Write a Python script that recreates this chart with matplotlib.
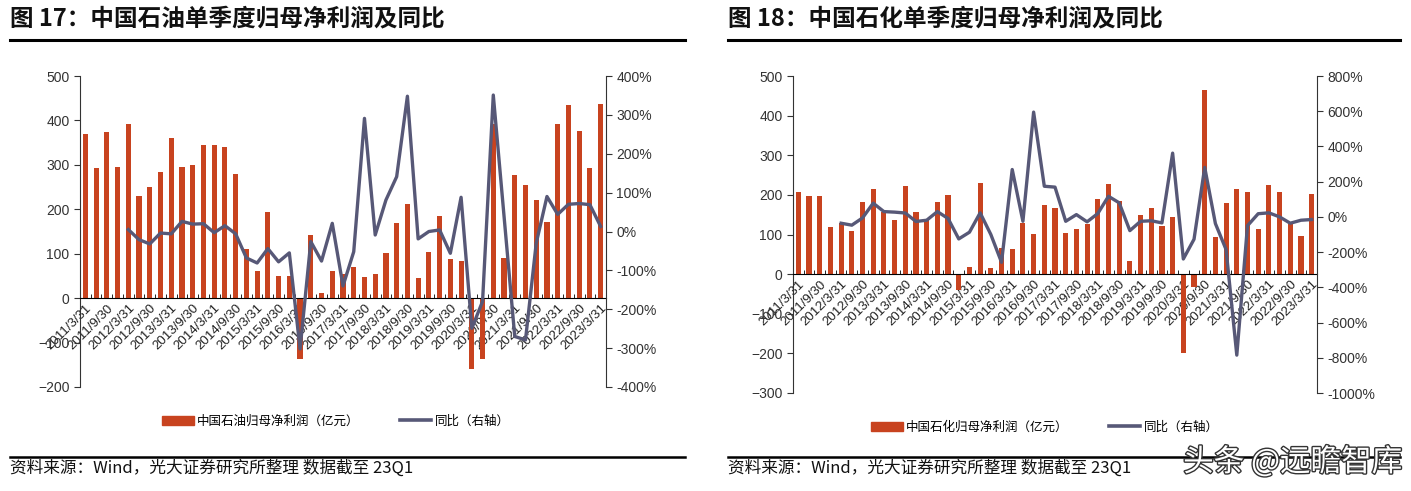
import numpy as np
import matplotlib
matplotlib.use("Agg")
import matplotlib.pyplot as plt
import matplotlib.patheffects as pe
from matplotlib.lines import Line2D
from matplotlib.patches import Patch
from matplotlib.ticker import FuncFormatter

plt.rcParams['font.family'] = ['Liberation Sans', 'Noto Sans CJK SC', 'DejaVu Sans']
CJK = ['Noto Sans CJK SC', 'DejaVu Sans']

# 横轴标签（每两个季度显示一个）
tick_labels = ["2011/3/31", "2011/9/30", "2012/3/31", "2012/9/30", "2013/3/31",
               "2013/9/30", "2014/3/31", "2014/9/30", "2015/3/31", "2015/9/30",
               "2016/3/31", "2016/9/30", "2017/3/31", "2017/9/30", "2018/3/31",
               "2018/9/30", "2019/3/31", "2019/9/30", "2020/3/31", "2020/9/30",
               "2021/3/31", "2021/9/30", "2022/3/31", "2022/9/30", "2023/3/31"]

# 中国石油 单季度归母净利润（亿元）和同比（%）
petro_profit = [370, 292, 375, 295, 392, 229, 251, 283, 361, 295,
                299, 344, 344, 340, 280, 111, 61, 193, 50, 50,
                -138, 143, 11, 62, 55, 70, 47, 55, 101, 170,
                211, 46, 104, 184, 88, 84, -160, -136, 392, 90,
                278, 254, 221, 171, 392, 434, 377, 292, 436]
petro_yoy = [np.nan, np.nan, np.nan, np.nan,
             5, -21, -32, -4, -6, 26, 19, 20, -3, 15,
             -6, -68, -81, -44, -78, -55, -302, -26, -76, 21,
             -140, -52, 291, -9, 81, 141, 348, -19, 0, 4,
             -56, 88, -249, -180, 351, 40, -270, -279, -30, 90,
             44, 70, 72, 69, 13]

# 中国石化 单季度归母净利润（亿元）和同比（%）
sinopec_profit = [207, 198, 198, 118, 129, 110, 183, 215, 157, 137,
                  222, 157, 137, 181, 199, -40, 17, 229, 15, 65,
                  63, 130, 101, 174, 167, 105, 113, 127, 189, 228,
                  184, 33, 149, 166, 121, 145, -200, -33, 465, 94,
                  180, 214, 208, 114, 226, 208, 127, 97, 202]
sinopec_yoy = [np.nan, np.nan, np.nan, np.nan,
               -36, -47, -6, 78, 30, 27, 22, -26, -19, 30,
               -9, -125, -87, 23, -100, -258, 269, -25, 595, 174,
               169, -25, 13, -28, 19, 117, 80, -78, -25, -22,
               -34, 362, -239, -127, 281, -38, -186, -785, -50, 18,
               23, 0, -36, -19, -15]

BAR = '#C8431F'
LINE = '#575877'
GRAY = '#333333'

W, H = 1411, 491
fig = plt.figure(figsize=(W / 100, H / 100), dpi=100)


def fx(px):
    return px / W


def fy(py):
    return 1 - py / H


def panel(rect, profit, yoy, ylim, yticks, y2lim, y2ticks):
    ax = fig.add_axes(rect)
    x = np.arange(len(profit))
    ax.bar(x, profit, width=0.48, color=BAR, zorder=2)
    ax.set_xlim(-0.5, len(profit) - 0.5)
    ax.set_ylim(*ylim)
    ax.set_yticks(yticks)
    ax.spines['top'].set_visible(False)
    ax.spines['right'].set_visible(False)
    ax.spines['bottom'].set_position(('data', 0))
    ax.spines['bottom'].set_color('black')
    ax.spines['left'].set_color(GRAY)
    ax.set_xticks(x[::2])
    ax.set_xticklabels(tick_labels, rotation=45, ha='right',
                       rotation_mode='anchor', fontsize=9.5, color='#222222')
    ax.set_xticks(np.arange(-0.5, len(profit), 1.0), minor=True)
    ax.tick_params(axis='x', which='major', length=0, pad=3)
    ax.tick_params(axis='x', which='minor', direction='in', length=3, color='black')
    ax.tick_params(axis='y', direction='out', length=4, labelsize=10,
                   labelcolor=GRAY, color=GRAY)

    ax2 = ax.twinx()
    ax2.plot(x, yoy, color=LINE, lw=2.4, zorder=3)
    ax2.set_ylim(*y2lim)
    ax2.set_yticks(y2ticks)
    ax2.yaxis.set_major_formatter(FuncFormatter(lambda v, p: f"{v:.0f}%"))
    for s in ['top', 'left', 'bottom']:
        ax2.spines[s].set_visible(False)
    ax2.spines['right'].set_color(GRAY)
    ax2.tick_params(axis='y', direction='out', length=4, labelsize=10,
                    labelcolor=GRAY, color=GRAY)
    return ax, ax2


panel([fx(80), fy(387), fx(526), fy(76) - fy(387)], petro_profit, petro_yoy,
      (-200, 500), range(-200, 501, 100), (-400, 400), range(-400, 401, 100))
panel([fx(793), fy(393), fx(524), fy(76) - fy(393)], sinopec_profit, sinopec_yoy,
      (-300, 500), range(-300, 501, 100), (-1000, 800), range(-1000, 801, 200))

# 标题、分隔线、图例、资料来源
titles = ["图 17：中国石油单季度归母净利润及同比", "图 18：中国石化单季度归母净利润及同比"]
bar_names = ["中国石油归母净利润（亿元）", "中国石化归母净利润（亿元）"]
for i, (x0, x1) in enumerate([(10, 685), (728, 1400)]):
    fig.text(fx(x0), fy(18), titles[i], family=CJK, fontsize=17, fontweight='bold',
             va='center', ha='left', color='#111111')
    fig.add_artist(Line2D([fx(x0), fx(x1)], [fy(40), fy(40)], color='black', lw=2.2))
    fig.add_artist(Line2D([fx(x0), fx(x1)], [fy(457), fy(457)], color='black', lw=1.8))
    fig.text(fx(x0), fy(468), "资料来源：Wind，光大证券研究所整理 数据截至 23Q1",
             family=CJK, fontsize=12, va='center', ha='left', color='#111111')
    handles = [Patch(color=BAR), Line2D([], [], color=LINE, lw=2.6)]
    fig.legend(handles, [bar_names[i], "同比（右轴）"], loc='center',
               bbox_to_anchor=(fx([336, 1045][i]), fy([421, 427][i])), ncol=2,
               frameon=False, prop={'family': CJK, 'size': 9},
               handlelength=2.5, handleheight=0.7, columnspacing=3.2, handletextpad=0.3)

fig.text(fx(1402), fy(462), "头条 @远瞻智库", family=CJK, fontsize=22, ha='right',
         va='center', color='white',
         path_effects=[pe.withStroke(linewidth=2, foreground='#333333')])

fig.savefig("out.png", dpi=100)
